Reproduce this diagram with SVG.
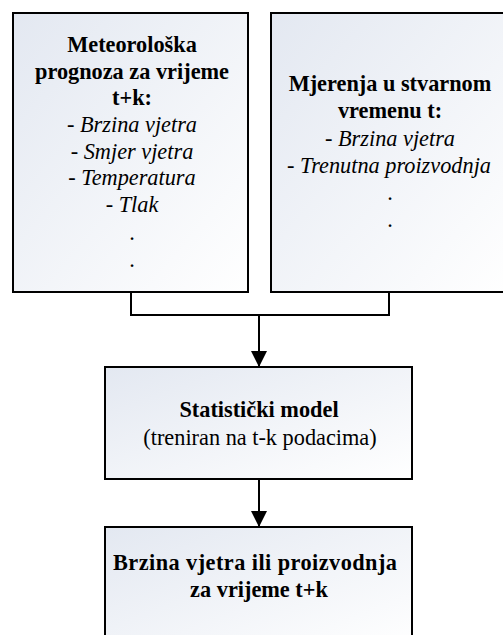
<svg xmlns="http://www.w3.org/2000/svg" width="503" height="635" viewBox="0 0 503 635">
<defs>
<linearGradient id="g" x1="0" y1="0" x2="1" y2="1">
<stop offset="0" stop-color="#e3e8f1"/>
<stop offset="1" stop-color="#ffffff"/>
</linearGradient>
<marker id="arr" markerWidth="16" markerHeight="16" refX="16" refY="8" orient="auto" markerUnits="userSpaceOnUse">
<path d="M0,0 L16,8 L0,16 Z" fill="#000"/>
</marker>
<style>
.box{fill:url(#g);stroke:#000;stroke-width:2}
.t{font-family:'Liberation Serif','Times New Roman','DejaVu Serif',serif;font-size:22.3px;fill:#000;text-anchor:middle}
.b{font-weight:bold}
.i{font-style:italic}
.c{fill:none;stroke:#000;stroke-width:2}
</style>
</defs>
<rect width="503" height="635" fill="#fff"/>
<g id="connectors">
<path class="c" d="M131,292 V315 H389 V292"/>
<path class="c" d="M259,315 V367" marker-end="url(#arr)"/>
<path class="c" d="M259,479 V527" marker-end="url(#arr)"/>
</g>
<g id="forecast">
<rect class="box" x="13" y="13" width="235" height="279"/>
<text class="t b" x="132" y="52">Meteorološka</text>
<text class="t b" x="132" y="79">prognoza za vrijeme</text>
<text class="t b" x="132" y="105">t+k:</text>
<text class="t" x="132" y="132">- <tspan class="i">Brzina vjetra</tspan></text>
<text class="t" x="132" y="159">- <tspan class="i">Smjer vjetra</tspan></text>
<text class="t" x="132" y="185">- <tspan class="i">Temperatura</tspan></text>
<text class="t" x="132" y="212">- <tspan class="i">Tlak</tspan></text>
<text class="t" x="132" y="240">.</text>
<text class="t" x="132" y="267">.</text>
</g>
<g id="measurements">
<rect class="box" x="271" y="13" width="238" height="279"/>
<text class="t b" x="390" y="91">Mjerenja u stvarnom</text>
<text class="t b" x="390" y="118">vremenu t:</text>
<text class="t" x="390" y="146">- <tspan class="i">Brzina vjetra</tspan></text>
<text class="t" x="389" y="173">- <tspan class="i">Trenutna proizvodnja</tspan></text>
<text class="t" x="390" y="200">.</text>
<text class="t" x="390" y="227">.</text>
</g>
<g id="model">
<rect class="box" x="105" y="367" width="307" height="112"/>
<text class="t b" x="259" y="417">Statistički model</text>
<text class="t" x="260" y="445">(treniran na t-k podacima)</text>
</g>
<g id="output">
<rect class="box" x="105" y="527" width="307" height="120"/>
<text class="t b" x="255" y="570" textLength="284" lengthAdjust="spacing">Brzina vjetra ili proizvodnja</text>
<text class="t b" x="259" y="597">za vrijeme t+k</text>
</g>
</svg>
